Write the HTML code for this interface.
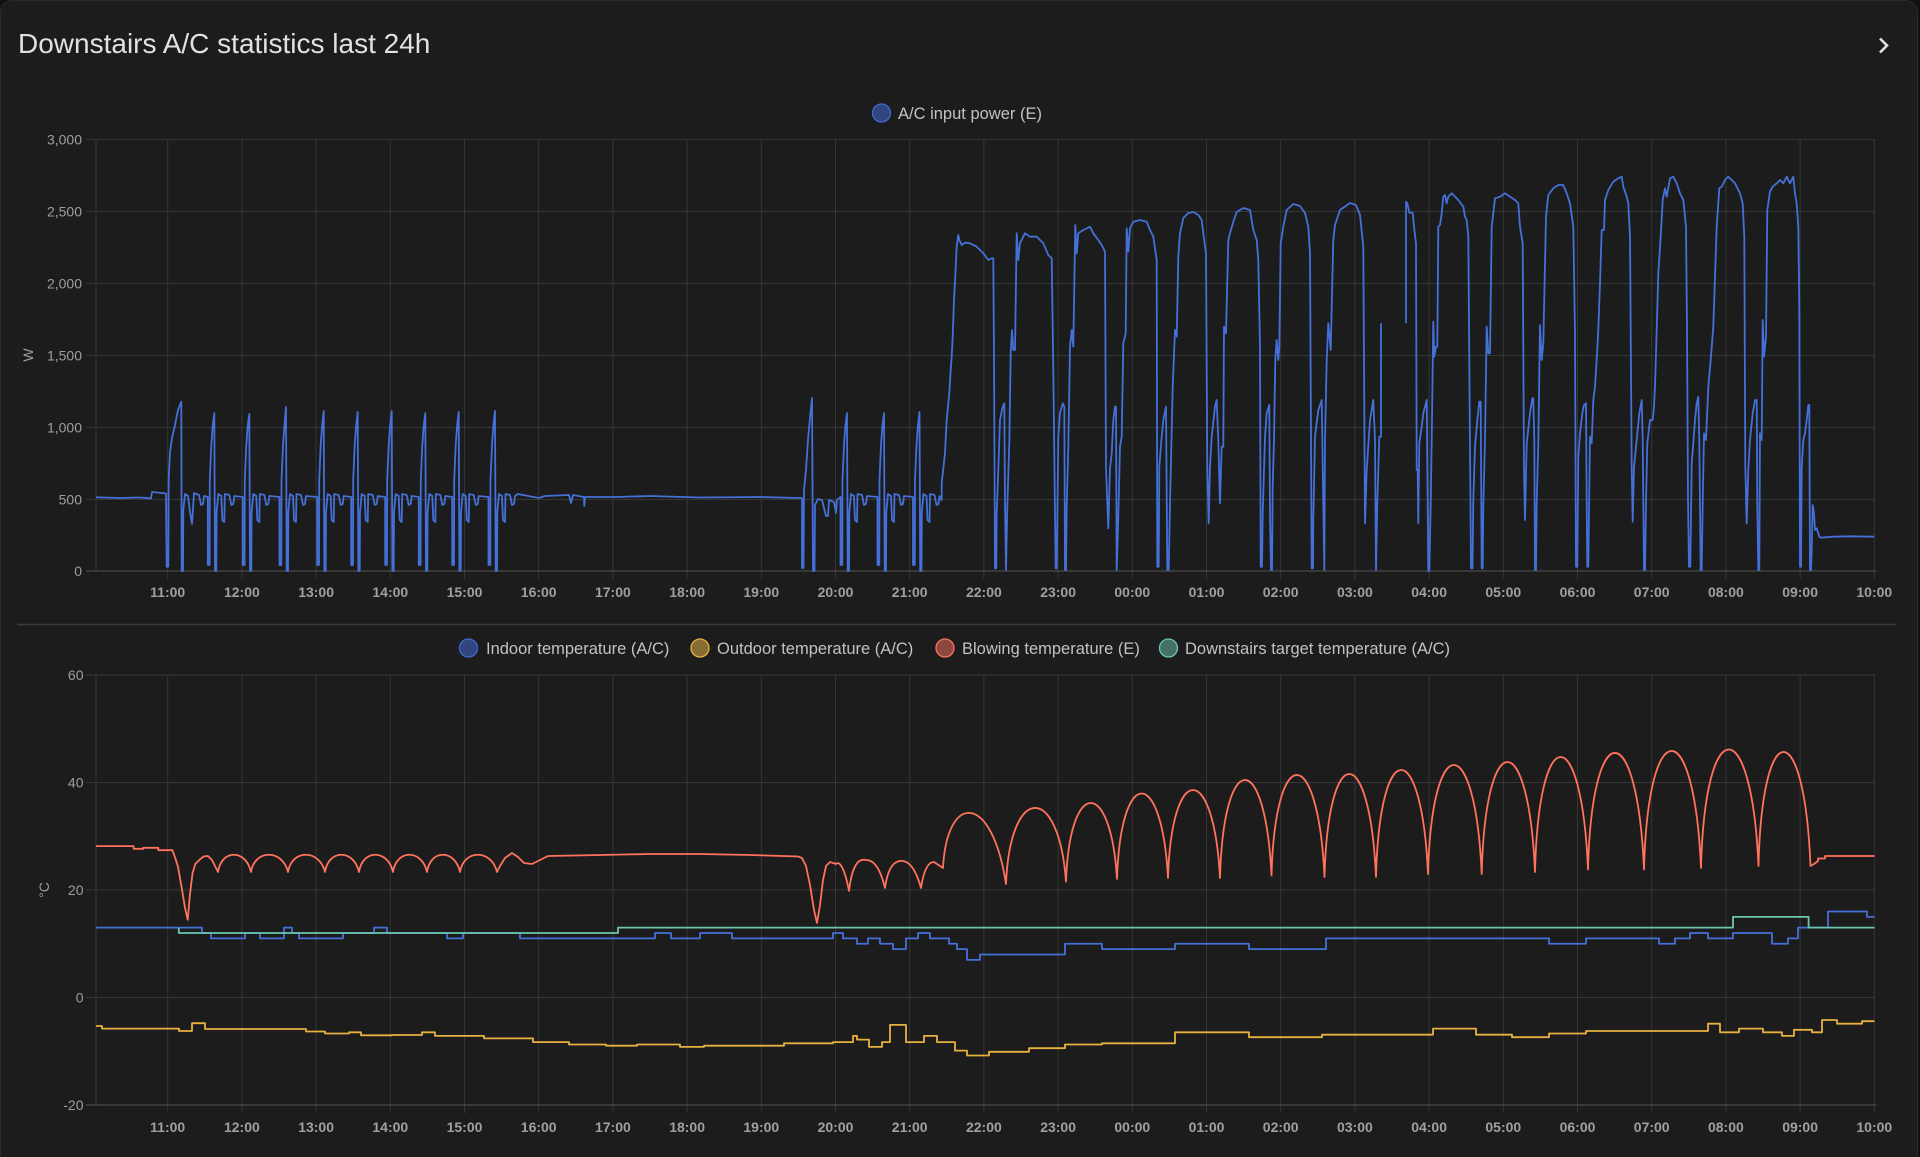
<!DOCTYPE html>
<html><head><meta charset="utf-8"><style>
html,body{margin:0;padding:0;background:#111111;width:1920px;height:1157px;overflow:hidden}
svg{display:block}
</style></head><body>
<svg width="1920" height="1157" viewBox="0 0 1920 1157" xmlns="http://www.w3.org/2000/svg" font-family="'Liberation Sans', Arial, sans-serif">
<rect x="0.5" y="0.5" width="1917" height="1175" rx="12" fill="#1c1c1c" stroke="#2b2b2b"/>
<text x="18" y="53" font-size="28" fill="#e1e1e1">Downstairs A/C statistics last 24h</text>
<polyline points="1880,38.5 1887,45.5 1880,52.5" fill="none" stroke="#e1e1e1" stroke-width="2.6"/>

<!-- top legend -->
<circle cx="881.5" cy="113" r="9" fill="#4269d0" fill-opacity="0.55" stroke="#4269d0" stroke-width="1.3"/>
<text x="898" y="119" font-size="16.5" fill="#c2c2c2">A/C input power (E)</text>

<!-- top grid -->
<path d="M86,139.5H1875M86,211.5H1875M86,283.5H1875M86,355.5H1875M86,427.5H1875M86,499.5H1875M96,139.5V571
M167.7,139.5V579M241.9,139.5V579M316.1,139.5V579M390.3,139.5V579M464.5,139.5V579M538.7,139.5V579M612.9,139.5V579M687.1,139.5V579M761.3,139.5V579M835.5,139.5V579M909.7,139.5V579M983.9,139.5V579M1058.1,139.5V579M1132.3,139.5V579M1206.5,139.5V579M1280.7,139.5V579M1354.9,139.5V579M1429.1,139.5V579M1503.3,139.5V579M1577.5,139.5V579M1651.7,139.5V579M1725.9,139.5V579M1800.1,139.5V579M1874.3,139.5V579" stroke="#363636" stroke-width="1" fill="none"/>
<path d="M86,571H1876" stroke="#4a4a4a" stroke-width="1.2"/>

<g font-size="14" fill="#9e9e9e" text-anchor="end">
<text x="82" y="144.5">3,000</text><text x="82" y="216.5">2,500</text><text x="82" y="288.5">2,000</text><text x="82" y="360.5">1,500</text><text x="82" y="432.5">1,000</text><text x="82" y="504.5">500</text><text x="82" y="576">0</text>
</g>
<text transform="translate(33,355) rotate(-90)" font-size="14" fill="#9e9e9e" text-anchor="middle">W</text>

<g font-size="14" font-weight="bold" fill="#a0a0a0" text-anchor="middle">
<text x="167.7" y="597">11:00</text><text x="241.9" y="597">12:00</text><text x="316.1" y="597">13:00</text><text x="390.3" y="597">14:00</text><text x="464.5" y="597">15:00</text><text x="538.7" y="597">16:00</text><text x="612.9" y="597">17:00</text><text x="687.1" y="597">18:00</text><text x="761.3" y="597">19:00</text><text x="835.5" y="597">20:00</text><text x="909.7" y="597">21:00</text><text x="983.9" y="597">22:00</text><text x="1058.1" y="597">23:00</text><text x="1132.3" y="597">00:00</text><text x="1206.5" y="597">01:00</text><text x="1280.7" y="597">02:00</text><text x="1354.9" y="597">03:00</text><text x="1429.1" y="597">04:00</text><text x="1503.3" y="597">05:00</text><text x="1577.5" y="597">06:00</text><text x="1651.7" y="597">07:00</text><text x="1725.9" y="597">08:00</text><text x="1800.1" y="597">09:00</text><text x="1874.3" y="597">10:00</text>
</g>

<!-- power line -->
<g fill="none" stroke="#4470d8" stroke-width="1.8" stroke-linejoin="round">
<path d="M96,497.3 L120,498 L140,497.5 L151,498.3 L152,492 L166,493.5 L166.7,566.7 L168.3,566.7 L168.7,479 L170,452 L172,438 L175,425 L178,410 L181.3,401.7 L181.7,571 L183,571 L183.3,510 L185,494 L188,496 L190,512 L192,524 L194,493 L199,495 L201,505 L203,504 L204,496
L207.8,497 v68 h1.8 l0.2,-85 l1.5,-35 l1.5,-20 l1.5,-12 l0.7,158 h1.3 l0.3,-59 l1.7,-18 l3,2 l1,24 l2,2 l0.5,-28 l4.5,1 l2,10 l2,-1 l1,-8
L242.8,497 v68 h1.8 l0.2,-85 l1.5,-35 l1.5,-20 l1.5,-11 l0.7,157 h1.3 l0.3,-59 l1.7,-18 l3,2 l1,24 l2,2 l0.5,-28 l4.5,1 l2,10 l2,-1 l1,-8
L279.5,497 v68 h1.8 l0.2,-85 l1.5,-35 l1.5,-20 l1.5,-18 l0.7,164 h1.3 l0.3,-59 l1.7,-18 l3,2 l1,24 l2,2 l0.5,-28 l4.5,1 l2,10 l2,-1 l1,-8
L317.2,497 v68 h1.8 l0.2,-85 l1.5,-35 l1.5,-20 l1.5,-14 l0.7,160 h1.3 l0.3,-59 l1.7,-18 l3,2 l1,24 l2,2 l0.5,-28 l4.5,1 l2,10 l2,-1 l1,-8
L351.2,497 v68 h1.8 l0.2,-85 l1.5,-35 l1.5,-20 l1.5,-13 l0.7,159 h1.3 l0.3,-59 l1.7,-18 l3,2 l1,24 l2,2 l0.5,-28 l4.5,1 l2,10 l2,-1 l1,-8
L385.2,497 v68 h1.8 l0.2,-85 l1.5,-35 l1.5,-20 l1.5,-14 l0.7,160 h1.3 l0.3,-59 l1.7,-18 l3,2 l1,24 l2,2 l0.5,-28 l4.5,1 l2,10 l2,-1 l1,-8
L418.8,497 v68 h1.8 l0.2,-85 l1.5,-35 l1.5,-20 l1.5,-12 l0.7,158 h1.3 l0.3,-59 l1.7,-18 l3,2 l1,24 l2,2 l0.5,-28 l4.5,1 l2,10 l2,-1 l1,-8
L452.2,497 v68 h1.8 l0.2,-85 l1.5,-35 l1.5,-20 l1.5,-13 l0.7,159 h1.3 l0.3,-59 l1.7,-18 l3,2 l1,24 l2,2 l0.5,-28 l4.5,1 l2,10 l2,-1 l1,-8
L488.5,497 v68 h1.8 l0.2,-85 l1.5,-35 l1.5,-20 l1.5,-14 l0.7,160 h1.3 l0.3,-59 l1.7,-18 l3,2 l1,24 l2,2 l0.5,-28 l4.5,1 l2,10 l2,-1 l1,-8
L517.7,494 L539,498 L545,496 L569,495 L571,503 L573,495 L584,497 L584.3,506 L585,497 L616,497 L650,496 L700,497.5 L760,497 L798,498 L802,498 L802,568 L803.5,568 L804,490 L806,470 L808,440 L810,418 L812,398 L813,571 L814.5,571 L815,505 L818,499 L822,500 L826,516 L828,516 L829,500 L834,502 L836,513 L837,500
L840.5,497 v68 h1.8 l0.2,-85 l1.5,-35 l1.5,-20 l1.5,-12 l0.7,158 h1.3 l0.3,-59 l1.7,-18 l3,2 l1,24 l2,2 l0.5,-28 l4.5,1 l2,10 l2,-1 l1,-8
L877.5,497 v68 h1.8 l0.2,-85 l1.5,-35 l1.5,-20 l1.5,-12 l0.7,158 h1.3 l0.3,-59 l1.7,-18 l3,2 l1,24 l2,2 l0.5,-28 l4.5,1 l2,10 l2,-1 l1,-8
L913,497 v68 h1.8 l0.2,-85 l1.5,-35 l1.5,-20 l1.5,-13 l0.7,159 h1.3 l0.3,-59 l1.7,-18 l3,2 l1,24 l2,2 l0.5,-28 l4.5,1 l2,10 l2,-1 l1,-8
L941.7,500 L941.7,483 L945,453 L946.7,420 L949.3,393 L950.7,370 L951.7,356.7 L952.7,336.7 L954,300 L955,281.7 L956.7,246.7 L958.3,235 L959.3,240 L961.7,245 L965,242.7 L970,243.3 L976.7,246.7 L983.3,253.3 L988.3,260 L991.7,258.3 L993.3,258.3 L994,355 L995,568.3 L996.3,568.3 L996.7,513.3 L998.3,470 L1000,420 L1002.7,406.7 L1004.3,403.3 L1005,503.3 L1006,570 L1007.3,506.7 L1009.3,443.3 L1010.7,353.3 L1012,330 L1013.3,350 L1015,350 L1016.7,233.3 L1018.3,260 L1020,243.3 L1025,233.3 L1030,236.7 L1036.7,236.7 L1043.3,243.3 L1048.3,255 L1051.7,258.3 L1053.3,370 L1055,513.3 L1055.7,568.3 L1056.7,568.3 L1057.7,486.7 L1058.3,436.7 L1060,413.3 L1062.7,403.3 L1064.3,406.7 L1065,570 L1066,570 L1066.7,506.7 L1068.3,446.7 L1070,346.7 L1071.7,330 L1073.3,346.7 L1075.3,225 L1076.7,253.3 L1078.3,233.3 L1083.3,230 L1090,226.7 L1093.3,233.3 L1098.3,240 L1101.7,245 L1105,251.7 L1106,468.3 L1108.3,528.3 L1110,468.3 L1111.7,453.3 L1113.3,420 L1115,406.7 L1116,406.7 L1116.7,570 L1118.3,516.7 L1120,446.7 L1121.7,436.7 L1123.3,343.3 L1125.7,333.3 L1126.7,228.3 L1128.3,251.7 L1130,228.3 L1133.3,221.7 L1140,220 L1146.7,221.7 L1150,230 L1153.3,236.7 L1156.7,260 L1157.3,566.7 L1158.7,566.7 L1159.3,466.7 L1161.7,436.7 L1163.3,420 L1166,406.7 L1167.3,570 L1168.7,570 L1170,503.3 L1172.7,386.7 L1175,330 L1176.7,336.7 L1178.3,256.7 L1180,233.3 L1183.3,218 L1188.3,213 L1193.3,212 L1198.3,215 L1201.7,220 L1203.3,233.3 L1206,253.3 L1207.3,466.7 L1208.7,523.3 L1210,466.7 L1211.7,436.7 L1215,406.7 L1216.7,400 L1218.3,440 L1220,503.3 L1221.7,446.7 L1223.3,446.7 L1224,326.7 L1226,333.3 L1228.3,240 L1230,233.3 L1233.3,221.7 L1236.7,212 L1243.3,208 L1250,210 L1253.3,230 L1256.7,240 L1258.3,260 L1260,346.7 L1260.7,566.7 L1262,566.7 L1262.7,513.3 L1265,436.7 L1266.7,413.3 L1269.3,405 L1270,513.3 L1271,570 L1272,570 L1272.7,486.7 L1274,440 L1275.3,360 L1276.7,340 L1278.3,360 L1279.3,346.7 L1280.7,243.3 L1283.3,226.7 L1286.7,210 L1293.3,204 L1300,206 L1305,213 L1308.3,226.7 L1310,253.3 L1311.7,568.3 L1313,568.3 L1313.3,520 L1315,436.7 L1318.3,410 L1321.7,400 L1323.3,503.3 L1324.3,570 L1325,440 L1326.7,360 L1328.3,323.3 L1330.7,350 L1333.3,240 L1335,225 L1340,210 L1350,203 L1356,205 L1360,215 L1363.3,246.7 L1365,523.3 L1366.7,470 L1370,420 L1373.3,400 L1375,440 L1376,570 L1377.3,503.3 L1379.3,436.7 L1381,436.7 L1381,323.3"/>
<path d="M1406,323.3 L1406,201.7 L1407.3,203.3 L1409.3,212.7 L1412.7,212.7 L1414,226.7 L1416,243.3 L1416.7,470 L1417.7,470 L1418.3,523.3 L1419.3,443.3 L1421.7,426.7 L1423.3,413.3 L1425,406.7 L1426.7,400 L1427.7,503.3 L1428.3,571 L1429.3,571 L1430.7,505 L1431.7,440 L1433.3,321.7 L1434.3,356.7 L1436,346.7 L1437.3,346.7 L1438.3,226.7 L1440,225 L1441.7,213.3 L1443.3,196.7 L1445,195 L1446.7,203.3 L1448.3,196.7 L1451.7,193.3 L1458.3,200 L1463.3,206.7 L1465,216.7 L1466.7,220 L1468.3,236.7 L1470,446.7 L1471,568.3 L1472.5,568.3 L1473.3,500 L1475,446.7 L1477.3,420 L1479.3,401.7 L1480.7,401.7 L1481.7,568.3 L1482.7,568.3 L1483.3,506.7 L1485,440 L1486.7,326.7 L1488.3,353.3 L1490,353.3 L1491.7,226.7 L1495,198.3 L1500,196.7 L1505,193.3 L1510,196.7 L1515,200 L1518.3,203.3 L1520,226.7 L1522.7,243.3 L1524,470 L1525,520 L1526.7,443.3 L1530,413.3 L1532.3,398.3 L1533.3,398.3 L1534.3,440 L1535,570 L1536,570 L1536.7,503.3 L1538.3,443.3 L1540,325 L1541.7,360 L1543.3,343.3 L1546,216.7 L1548.3,195 L1553.3,188.3 L1558.3,185 L1563.3,185 L1566.7,193.3 L1570,203.3 L1573.3,226.7 L1575,333.3 L1576,566.7 L1577.3,566.7 L1578.3,456.7 L1580,433.3 L1582.3,413.3 L1584,405 L1586,403.3 L1586.7,501.7 L1587.3,566.7 L1588.3,566.7 L1590,436.7 L1591.7,443.3 L1593.3,400 L1595,386.7 L1596.7,360 L1598.3,330 L1600,283.3 L1601.7,230 L1604,230 L1605,200 L1608.3,190 L1613.3,181.7 L1618.3,178.3 L1621.7,176.7 L1623.3,186.7 L1626.7,196.7 L1628.3,203.3 L1630,236.7 L1631.7,466.7 L1632.7,521.7 L1634,466.7 L1636.7,440 L1639.3,413.3 L1641.7,400 L1642.7,440 L1644,570 L1645,570 L1646,503.3 L1647.3,443.3 L1650,420 L1652.7,420 L1654,406.7 L1655,386.7 L1656.7,330 L1658.3,273.3 L1660.7,236.7 L1662.7,200 L1665,188.3 L1666.7,196.7 L1670,178.3 L1673.3,176.7 L1676.7,183.3 L1680,193.3 L1683.3,200 L1686,226.7 L1687,326.7 L1688,500 L1689,566.7 L1690.3,566.7 L1691.7,463.3 L1693.3,443.3 L1695,420 L1696.7,403.3 L1698.3,396.7 L1699.3,440 L1700.7,570 L1701.7,570 L1702.7,503.3 L1704,433.3 L1706,440 L1708.3,386.7 L1710.7,360 L1713.3,326.7 L1715,276.7 L1716.7,226.7 L1719.3,188.3 L1721.7,186.7 L1725,180 L1728.3,176.7 L1731.7,180 L1735,183.3 L1740,193.3 L1742.7,203.3 L1744.3,236.7 L1745.3,466.7 L1746.7,523.3 L1748.3,470 L1750,440 L1752.7,413.3 L1755,400 L1756.7,400 L1757.3,503.3 L1758.3,570 L1759.3,570 L1760,433.3 L1761.7,440 L1762.7,320 L1764,356.7 L1766,336.7 L1767.3,210 L1770,191.7 L1772.7,186.7 L1776.7,183.3 L1780,180 L1783.3,183.3 L1786.7,176.7 L1790,183.3 L1793.3,176.7 L1795,193.3 L1796.7,203.3 L1798.3,226.7 L1799.3,306.7 L1800,566.7 L1801,566.7 L1801.7,466.7 L1803.3,440 L1805,433.3 L1806.7,420 L1808.3,405 L1809.3,405 L1810,570 L1811,570 L1811.7,550 L1812.7,505 L1814,513.3 L1815,530 L1816.7,528.3 L1819.3,536.7 L1820.7,537.7 L1833.3,536.7 L1850,536.3 L1874.3,536.7"/>
</g>

<!-- separator -->
<path d="M17,624.5H1896" stroke="#3c3c3c" stroke-width="1.4"/>

<!-- bottom legend -->
<circle cx="468.5" cy="648" r="9" fill="#4269d0" fill-opacity="0.55" stroke="#4269d0" stroke-width="1.3"/>
<text x="486" y="654" font-size="16.5" fill="#c2c2c2">Indoor temperature (A/C)</text>
<circle cx="700" cy="648" r="9" fill="#f4bd4a" fill-opacity="0.5" stroke="#e8b13f" stroke-width="1.3"/>
<text x="717" y="654" font-size="16.5" fill="#c2c2c2">Outdoor temperature (A/C)</text>
<circle cx="945" cy="648" r="9" fill="#ff725c" fill-opacity="0.5" stroke="#ff725c" stroke-width="1.3"/>
<text x="962" y="654" font-size="16.5" fill="#c2c2c2">Blowing temperature (E)</text>
<circle cx="1168.5" cy="648" r="9" fill="#6cc5b0" fill-opacity="0.5" stroke="#6cc5b0" stroke-width="1.3"/>
<text x="1185" y="654" font-size="16.5" fill="#c2c2c2">Downstairs target temperature (A/C)</text>

<!-- bottom grid -->
<path d="M86,675H1875M86,782.5H1875M86,890H1875M86,997.5H1875M96,675V1105
M167.7,675V1113M241.9,675V1113M316.1,675V1113M390.3,675V1113M464.5,675V1113M538.7,675V1113M612.9,675V1113M687.1,675V1113M761.3,675V1113M835.5,675V1113M909.7,675V1113M983.9,675V1113M1058.1,675V1113M1132.3,675V1113M1206.5,675V1113M1280.7,675V1113M1354.9,675V1113M1429.1,675V1113M1503.3,675V1113M1577.5,675V1113M1651.7,675V1113M1725.9,675V1113M1800.1,675V1113M1874.3,675V1113" stroke="#363636" stroke-width="1" fill="none"/>
<path d="M86,1105H1876" stroke="#4a4a4a" stroke-width="1.2"/>

<g font-size="14" fill="#9e9e9e" text-anchor="end">
<text x="83.5" y="680">60</text><text x="83.5" y="787.5">40</text><text x="83.5" y="895">20</text><text x="83.5" y="1002.5">0</text><text x="83.5" y="1110">-20</text>
</g>
<text transform="translate(49,890) rotate(-90)" font-size="14" fill="#9e9e9e" text-anchor="middle">°C</text>

<g font-size="14" font-weight="bold" fill="#a0a0a0" text-anchor="middle">
<text x="167.7" y="1132">11:00</text><text x="241.9" y="1132">12:00</text><text x="316.1" y="1132">13:00</text><text x="390.3" y="1132">14:00</text><text x="464.5" y="1132">15:00</text><text x="538.7" y="1132">16:00</text><text x="612.9" y="1132">17:00</text><text x="687.1" y="1132">18:00</text><text x="761.3" y="1132">19:00</text><text x="835.5" y="1132">20:00</text><text x="909.7" y="1132">21:00</text><text x="983.9" y="1132">22:00</text><text x="1058.1" y="1132">23:00</text><text x="1132.3" y="1132">00:00</text><text x="1206.5" y="1132">01:00</text><text x="1280.7" y="1132">02:00</text><text x="1354.9" y="1132">03:00</text><text x="1429.1" y="1132">04:00</text><text x="1503.3" y="1132">05:00</text><text x="1577.5" y="1132">06:00</text><text x="1651.7" y="1132">07:00</text><text x="1725.9" y="1132">08:00</text><text x="1800.1" y="1132">09:00</text><text x="1874.3" y="1132">10:00</text>
</g>

<g fill="none" stroke-width="1.8" stroke-linejoin="round">
<!-- indoor -->
<path stroke="#4470d8" d="M96,927.6 H202 V933 H211 V938.4 H245 V933 H260 V938.4 H284 V927.6 H292 V933 H299 V938.4 H343 V933 H374 V927.6 H387 V933 H447 V938.4 H463 V933 H520 V938.4 H655 V933 H671 V938.4 H700 V933 H732 V938.4 H833 V933 H843 V938.4 H857 V943.75 H868 V938.4 H880 V943.75 H893 V949.1 H906 V938.4 H918 V933 H930 V938.4 H949 V943.75 H957 V949.1 H967 V959.9 H980 V954.5 H1065 V943.75 H1102 V949.1 H1175 V943.75 H1249 V949.1 H1326 V938.4 H1549 V943.75 H1586 V938.4 H1659 V943.75 H1675 V938.4 H1690 V933 H1708 V938.4 H1733 V933 H1772 V943.75 H1788 V938.4 H1798 V927.6 H1828 V911.5 H1867 V916.9 H1874.5"/>
<!-- outdoor -->
<path stroke="#e8b13f" d="M96,1026 H102 V1028.6 H179 V1031 H192 V1023.2 H205 V1029 H306 V1031.5 H325 V1033.5 H349 V1032.3 H361 V1035.3 H392 V1035 H422 V1032.3 H435 V1035.9 H484 V1038.4 H533 V1042.1 H569 V1044.5 H606 V1045.7 H637 V1044.5 H680 V1046.9 H704 V1045.7 H784 V1043.3 H833 V1042.1 H853 V1035.9 H857 V1039.6 H869 V1046.9 H882 V1042.1 H890 V1024.9 H906 V1042.1 H924 V1035.9 H937 V1042.1 H955 V1050.6 H967 V1055.5 H989 V1051.8 H1029 V1048.2 H1065 V1044.5 H1102 V1043.3 H1175 V1032.3 H1249 V1037.2 H1322 V1034.7 H1433 V1028.6 H1476 V1034.7 H1512 V1037.2 H1549 V1033.5 H1586 V1031 H1708 V1023.7 H1720 V1032.3 H1739 V1028.6 H1763 V1032.3 H1782 V1035.9 H1794 V1029.8 H1812 V1032.3 H1822 V1020 H1837 V1023.7 H1862 V1021.2 H1874.5"/>
<!-- blowing -->
<path stroke="#ff725c" d="M96,846.1 H133.6 V848.8 H143.2 V847.8 H158.3 V850.2 H172.3 L174.7,856.4 L178,866.7 L181.6,887.2 L185,907.8 L187.7,919.8 L190,894 L192.5,873.5 L195.3,863.9 L200.4,859 L203.8,856.4 L208,856 L212,860 L218,872 C221.3,849 246,849 251,872 C254.7,849 282.5,849 288,872 C291.7,849 319.5,849 325,872 C328.4,849 353.9,849 359,872 C362.4,849 387.9,849 393,872 C396.4,849 421.9,849 427,872 C430.3,849 455,849 460,872 C463.7,849 491.5,849 497,872 L500,866 L505,858 L512,853 L518,857 L524,863 L532,864 L540,860 L548,856 L600,855 L650,854 L700,854 L750,855 L798,856.5 L802,858 L806,866 L810,885 L814,910 L817,923 L820,905 L823,880 L826,866 L830,862 L836,864 C840,860 845,870 849,891 C852,866 858,858 866,860 C874,860 880,868 885,888 C888,866 895,860 903,861 C910,862 916,870 921,888 C924,868 929,862 934,862 L940,866 L943,868 C947,792 992,792 1006,884 C1010.2,783 1058.8,783 1066,881.6 C1069.6,777.2 1110.9,777.2 1117,879 C1120.6,765.2 1161.9,765.2 1168,878 C1171.6,760.7 1213.8,760.7 1220,878 C1223.6,747.7 1265.3,747.7 1271.5,875.5 C1275.2,741.2 1318.1,741.2 1324.5,877 C1328.1,739.7 1369.8,739.7 1376,877 C1379.6,734.8 1421.8,734.8 1428,874 C1431.8,728.7 1475.3,728.7 1481.7,874 C1485.4,725 1528.6,725 1535,872 C1538.7,719.1 1581.6,719.1 1588,869.5 C1591.9,714.1 1637.3,714.1 1644,869.5 C1648,711.7 1694.2,711.7 1701,868 C1705,710.3 1751.6,710.3 1758.5,866 C1762.1,714 1804.3,714 1810.5,866 L1814,864 L1818,861 V858.5 H1825 V856 H1874.5"/>
<!-- target -->
<path stroke="#6cc5b0" d="M178.8,927.6 V933 H618 V927.6 H1733 V916.9 H1808.6 V927.6 H1874.5"/>
</g>
</svg>
</body></html>
